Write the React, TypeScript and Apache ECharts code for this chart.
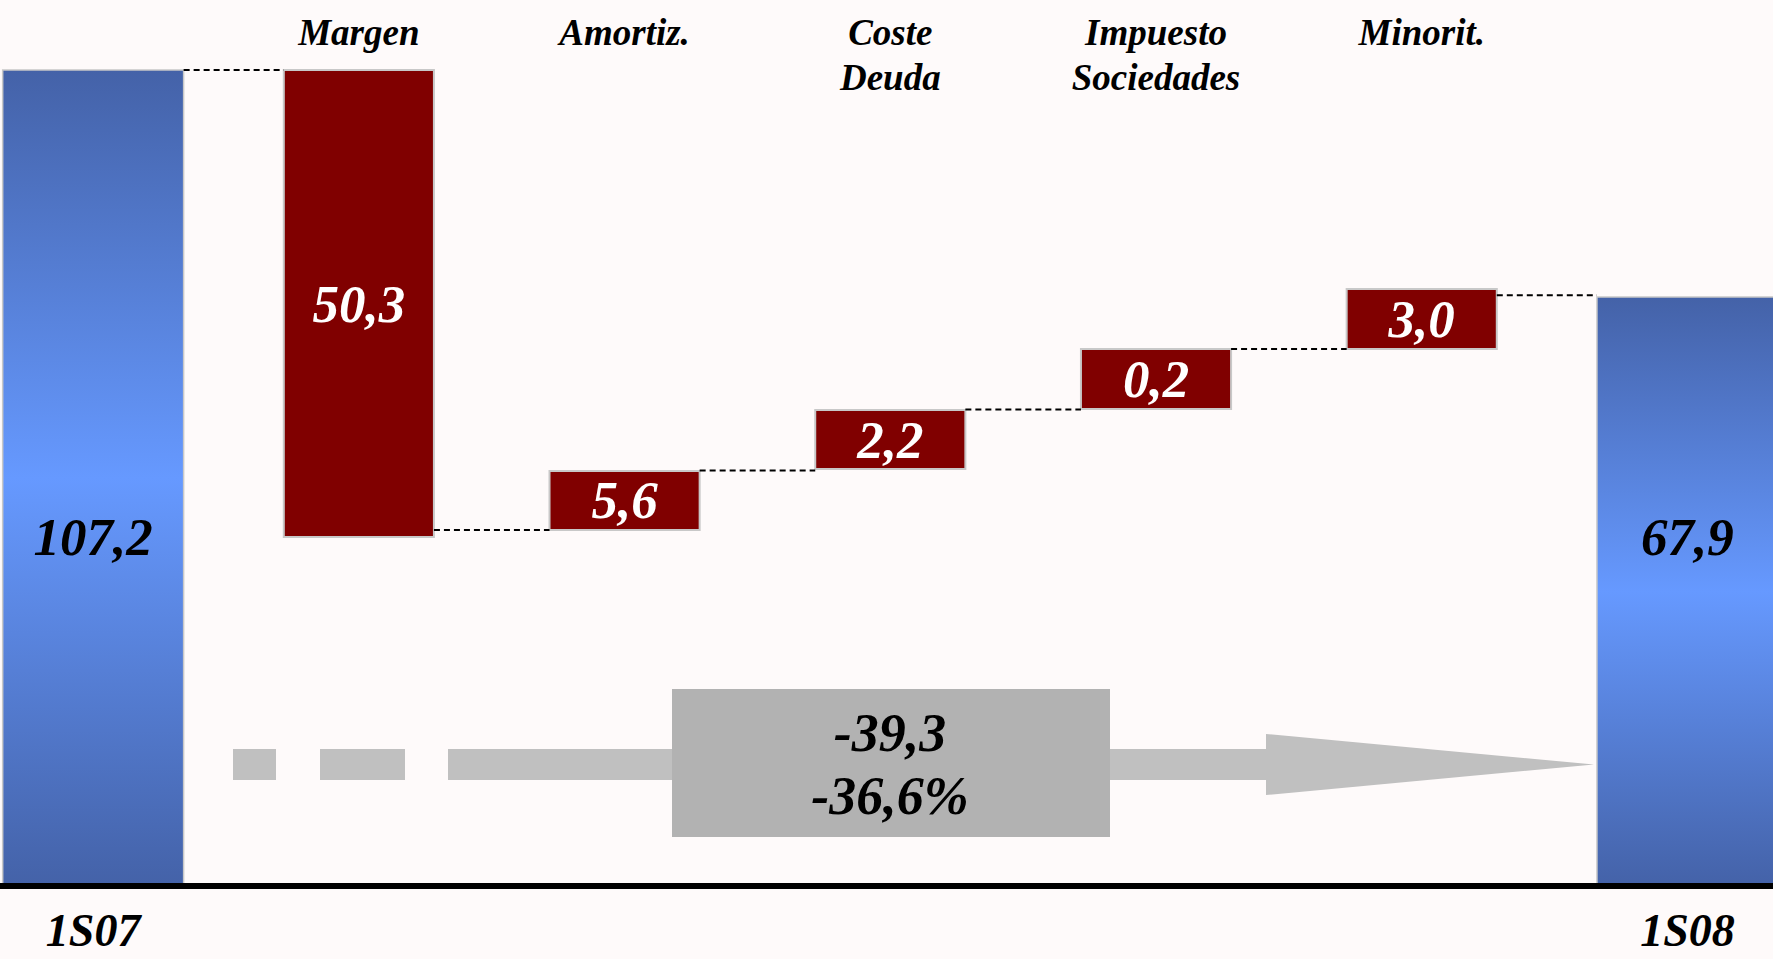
import React, { useEffect, useRef } from "react";
import * as echarts from "echarts";

// ---- data ----
const categories = ["1S07", "Margen", "Amortiz.", "Coste\nDeuda", "Impuesto\nSociedades", "Minorit.", "1S08"];
const isTotal = [true, false, false, false, false, false, true];
const valueLabels = ["107,2", "50,3", "5,6", "2,2", "0,2", "3,0", "67,9"];
// drawn extent of each bar, in the chart's own (not-to-scale) units
const barBase = [0, 45.85, 46.77, 54.78, 62.66, 70.55, 0];
const barTop = [107.2, 107.2, 54.52, 62.53, 70.55, 78.43, 77.38];
// dotted connector levels between consecutive bars
const connectorLevel = [107.2, 46.77, 54.6, 62.6, 70.55, 77.6];
const changeLabels = ["-39,3", "-36,6%"];

const FONT = "'Liberation Serif', 'Times New Roman', Times, serif";
const TOTAL_RATIO = 0.681;
const DELTA_RATIO = 0.565;
const TOTAL_LABEL_LEVEL = 45.85;

export default function App() {
  const ref = useRef<HTMLDivElement>(null);

  useEffect(() => {
    document.body.style.margin = "0";
    if (!ref.current) return;
    const chart = echarts.init(ref.current, undefined, { renderer: "svg" });

    const barData = categories.map((_, i) => [i, barBase[i], barTop[i]]);
    const connData = connectorLevel.map((lv, i) => [i, lv]);

    const totalGradient = {
      type: "linear",
      x: 0,
      y: 0,
      x2: 0,
      y2: 1,
      colorStops: [
        { offset: 0, color: "#4462a8" },
        { offset: 0.5, color: "#6699ff" },
        { offset: 1, color: "#4462a8" },
      ],
    };

    const option: any = {
      animation: false,
      backgroundColor: "#fefafa",
      grid: {
        left: -39.7,
        right: -47.3,
        top: 48.7,
        bottom: 73,
        containLabel: false,
        outerBoundsMode: "none",
      },
      xAxis: [
        {
          type: "category",
          data: categories,
          position: "bottom",
          z: 10,
          axisLine: { show: true, lineStyle: { color: "#000", width: 6 } },
          axisTick: { show: false },
          splitLine: { show: false },
          axisLabel: {
            interval: 0,
            formatter: (v: string, i: number) => (isTotal[i] ? v : ""),
            margin: 26,
            fontSize: 46,
            lineHeight: 36,
            fontFamily: FONT,
            fontWeight: "bold",
            fontStyle: "italic",
            color: "#000",
          },
        },
        {
          type: "category",
          data: categories,
          position: "top",
          axisLine: { show: false },
          axisTick: { show: false },
          splitLine: { show: false },
          axisLabel: {
            interval: 0,
            formatter: (v: string, i: number) => (isTotal[i] ? "" : v),
            margin: 38.7,
            verticalAlign: "top",
            fontSize: 37,
            lineHeight: 45,
            fontFamily: FONT,
            fontWeight: "bold",
            fontStyle: "italic",
            color: "#000",
          },
        },
      ],
      yAxis: { type: "value", min: 0, max: 110, show: false },
      series: [
        {
          type: "custom",
          name: "bars",
          xAxisIndex: 0,
          data: barData,
          z: 2,
          renderItem: (params: any, api: any) => {
            const i = api.value(0);
            const base = api.value(1);
            const top = api.value(2);
            const p0 = api.coord([i, base]);
            const p1 = api.coord([i, top]);
            const band = api.size([1, 0])[0];
            const total = isTotal[i];
            const w = band * (total ? TOTAL_RATIO : DELTA_RATIO);
            const cx = p0[0];
            const labelY = total
              ? api.coord([i, TOTAL_LABEL_LEVEL])[1]
              : (p0[1] + p1[1]) / 2;
            return {
              type: "group",
              children: [
                {
                  type: "rect",
                  shape: { x: cx - w / 2, y: p1[1], width: w, height: p0[1] - p1[1] },
                  style: {
                    fill: total ? totalGradient : "#800000",
                    stroke: "#c8c8c8",
                    lineWidth: total ? 1.5 : 2,
                  },
                },
                {
                  type: "text",
                  x: cx,
                  y: labelY,
                  style: {
                    text: valueLabels[i],
                    fill: total ? "#000" : "#fff",
                    fontSize: 53,
                    fontFamily: FONT,
                    fontWeight: "bold",
                    fontStyle: "italic",
                    align: "center",
                    verticalAlign: "middle",
                  },
                },
              ],
            };
          },
        },
        {
          type: "custom",
          name: "connectors",
          xAxisIndex: 0,
          data: connData,
          z: 3,
          renderItem: (params: any, api: any) => {
            const i = api.value(0);
            const lv = api.value(1);
            const band = api.size([1, 0])[0];
            const a = api.coord([i, lv]);
            const b = api.coord([i + 1, lv]);
            const wa = band * (isTotal[i] ? TOTAL_RATIO : DELTA_RATIO);
            const wb = band * (isTotal[i + 1] ? TOTAL_RATIO : DELTA_RATIO);
            return {
              type: "line",
              shape: { x1: a[0] + wa / 2, y1: a[1], x2: b[0] - wb / 2, y2: b[1] },
              style: { stroke: "#000", lineWidth: 2, lineDash: [6, 4] },
            };
          },
        },
      ],
      graphic: [
        { type: "rect", z: 5, shape: { x: 233, y: 749, width: 43, height: 31 }, style: { fill: "#c0c0c0" } },
        { type: "rect", z: 5, shape: { x: 320, y: 749, width: 85, height: 31 }, style: { fill: "#c0c0c0" } },
        { type: "rect", z: 5, shape: { x: 448, y: 749, width: 820, height: 31 }, style: { fill: "#c0c0c0" } },
        {
          type: "polygon",
          z: 5,
          shape: { points: [[1266, 734], [1594, 764.5], [1266, 795]] },
          style: { fill: "#c0c0c0" },
        },
        { type: "rect", z: 6, shape: { x: 672, y: 689, width: 438, height: 148 }, style: { fill: "#b2b2b2" } },
        {
          type: "text",
          z: 7,
          x: 890,
          y: 733,
          style: {
            text: changeLabels[0],
            fill: "#000",
            fontSize: 54,
            fontFamily: FONT,
            fontWeight: "bold",
            fontStyle: "italic",
            align: "center",
            verticalAlign: "middle",
          },
        },
        {
          type: "text",
          z: 7,
          x: 890,
          y: 796,
          style: {
            text: changeLabels[1],
            fill: "#000",
            fontSize: 54,
            fontFamily: FONT,
            fontWeight: "bold",
            fontStyle: "italic",
            align: "center",
            verticalAlign: "middle",
          },
        },
      ],
    };

    chart.setOption(option);
    return () => chart.dispose();
  }, []);

  return <div ref={ref} style={{ width: 1773, height: 959 }} />;
}
